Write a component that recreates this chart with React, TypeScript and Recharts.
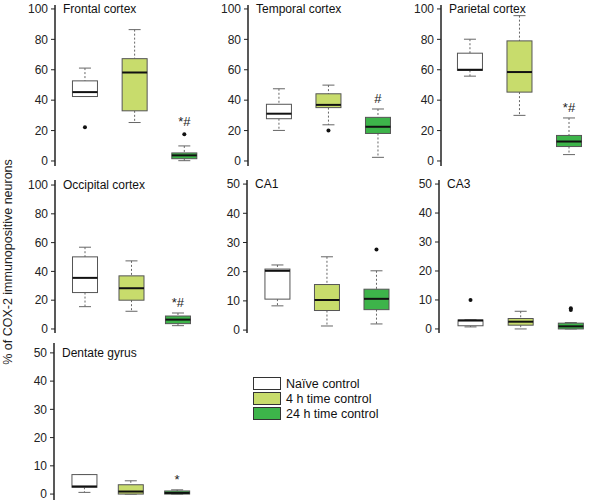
import React from 'react'
import { ComposedChart, Bar, XAxis, YAxis } from 'recharts'

const regions = ['Frontal cortex', 'Temporal cortex', 'Parietal cortex', 'Occipital cortex', 'CA1', 'CA3', 'Dentate gyrus']
const groups = ['Naïve control', '4 h time control', '24 h time control']
const groupColors = ['#ffffff', '#c8dc6c', '#3db44a']

// one row per region, one value per group (naive, 4 h, 24 h)
const whiskerLow = [
  [42.4, 25.3, 0.2],
  [20.1, 23.8, 2.4],
  [55.8, 30, 4.2],
  [15.5, 12.3, 2.3],
  [8.3, 1.4, 2.1],
  [0.7, 0, 0],
  [0.6, 0, 0],
]
const lowerQuartile = [
  [42.4, 33, 1.5],
  [27.8, 35.1, 18.1],
  [59.6, 45.3, 9.5],
  [25.3, 20, 3.7],
  [10.6, 6.7, 7],
  [1.1, 1.3, 0],
  [2.4, 0, 0],
]
const medians = [
  [45.3, 58.2, 3.7],
  [31.1, 36.9, 22.5],
  [60, 58.5, 12.8],
  [35.5, 28.3, 6.5],
  [20.3, 10.3, 10.7],
  [2.9, 2.5, 0.9],
  [2.7, 0.9, 0.4],
]
const upperQuartile = [
  [52.7, 67.3, 5.3],
  [37.3, 44.2, 28.7],
  [70.9, 79, 16.8],
  [50.1, 36.9, 9],
  [20.9, 15.6, 14],
  [3.1, 3.6, 2],
  [6.9, 3.3, 1.1],
]
const whiskerHigh = [
  [61.1, 86.4, 9.9],
  [47.5, 49.9, 34.2],
  [80.1, 95.6, 28.3],
  [56.8, 47.3, 11.1],
  [22.3, 25.1, 20.3],
  [3.2, 6.1, 2.2],
  [6.9, 4.7, 1.5],
]
const outliers = [
  [[22.2], [], [17.6]],
  [[], [20.1], []],
  [[], [], []],
  [[], [], []],
  [[], [], [27.6]],
  [[10], [], [6.5, 7.1]],
  [[], [], []],
]
const marks = [
  ['', '', '*#'],
  ['', '', '#'],
  ['', '', '*#'],
  ['', '', '*#'],
  ['', '', ''],
  ['', '', ''],
  ['', '', '*'],
]
const ticks100 = [0, 20, 40, 60, 80, 100]
const ticks50 = [0, 10, 20, 30, 40, 50]

const FONT = '"Liberation Sans", Arial, sans-serif'
const AXIS = '#222'

// where each panel's axes sit on the page
const layout = [
  { left: 55, right: 207, top: 5, bottom: 166, y: [-3.3, 102.6], x: [0.39, 3.45], ticks: ticks100 },
  { left: 248, right: 403, top: 5, bottom: 166, y: [-3.3, 102.6], x: [0.37, 3.5], ticks: ticks100 },
  { left: 441, right: 598, top: 5, bottom: 166, y: [-3.3, 102.6], x: [0.41, 3.58], ticks: ticks100 },
  { left: 55, right: 207, top: 180, bottom: 333, y: [-2.8, 103.5], x: [0.36, 3.63], ticks: ticks100 },
  { left: 247, right: 403, top: 180, bottom: 333, y: [-1, 51.4], x: [0.38, 3.53], ticks: ticks50 },
  { left: 439, right: 598, top: 180, bottom: 333, y: [-1.4, 51.4], x: [0.38, 3.55], ticks: ticks50 },
  { left: 54, right: 200, top: 343, bottom: 500, y: [-2.1, 53.5], x: [0.35, 3.5], ticks: ticks50 },
]

// draws the whole box plot from the min..max range bar
const BoxShape = (props: any) => {
  const { x, y, width, height, payload } = props
  const span = payload.hi - payload.lo
  const py = (v: number) => (span === 0 ? y : y + ((payload.hi - v) / span) * height)
  const cx = x + width / 2
  const cap = 6
  const top = Math.min(py(payload.hi), ...payload.out.map((v: number) => py(v) - 2))
  return (
    <g>
      <line x1={cx} x2={cx} y1={py(payload.hi)} y2={py(payload.q3)} stroke="#666" strokeDasharray="2 2" />
      <line x1={cx} x2={cx} y1={py(payload.q1)} y2={py(payload.lo)} stroke="#666" strokeDasharray="2 2" />
      <line x1={cx - cap} x2={cx + cap} y1={py(payload.hi)} y2={py(payload.hi)} stroke="#666" />
      <line x1={cx - cap} x2={cx + cap} y1={py(payload.lo)} y2={py(payload.lo)} stroke="#666" />
      <rect
        x={x}
        y={py(payload.q3)}
        width={width}
        height={Math.max(1, py(payload.q1) - py(payload.q3))}
        fill={payload.color}
        stroke="#555"
      />
      <line x1={x} x2={x + width} y1={py(payload.med)} y2={py(payload.med)} stroke="#111" strokeWidth={2} />
      {payload.out.map((v: number, k: number) => (
        <circle key={k} cx={cx} cy={py(v)} r={2} fill="#111" />
      ))}
      {payload.mark && (
        <text x={cx} y={top - 6} textAnchor="middle" fontSize={13} fontFamily={FONT} fill={AXIS}>
          {payload.mark}
        </text>
      )}
    </g>
  )
}

function Panel({ index }: { index: number }) {
  const l = layout[index]
  const data = groups.map((g, j) => ({
    pos: j + 1,
    lo: whiskerLow[index][j],
    q1: lowerQuartile[index][j],
    med: medians[index][j],
    q3: upperQuartile[index][j],
    hi: whiskerHigh[index][j],
    out: outliers[index][j],
    mark: marks[index][j],
    color: groupColors[j],
  }))
  const yw = 50
  const pad = 9
  // title sits level with the top tick
  const topTick = l.ticks[l.ticks.length - 1]
  const tickY = ((l.y[1] - topTick) / (l.y[1] - l.y[0])) * (l.bottom - l.top)
  return (
    <div style={{ position: 'absolute', left: l.left - yw, top: l.top - pad }}>
      <ComposedChart
        width={l.right - l.left + yw + 2}
        height={l.bottom - l.top + pad * 2}
        data={data}
        margin={{ top: pad, right: 2, bottom: pad, left: 0 }}
      >
        <XAxis
          type="number"
          dataKey="pos"
          domain={l.x}
          ticks={[1, 2, 3]}
          tick={false}
          tickLine={false}
          height={0}
          axisLine={{ stroke: AXIS, strokeWidth: 1.5 }}
          allowDataOverflow
        />
        <YAxis
          width={yw}
          domain={l.y}
          ticks={l.ticks}
          interval={0}
          allowDataOverflow
          tickSize={4}
          tickMargin={3}
          tick={{ fill: AXIS, fontSize: 12, fontFamily: FONT }}
          tickLine={{ stroke: AXIS }}
          axisLine={{ stroke: AXIS, strokeWidth: 1.5 }}
        />
        <Bar dataKey={(d: any) => [d.lo, d.hi]} barSize={25} shape={<BoxShape />} isAnimationActive={false} />
      </ComposedChart>
      <div
        style={{
          position: 'absolute',
          left: yw + 8,
          top: pad + tickY - 6,
          fontFamily: FONT,
          fontSize: 12,
          lineHeight: '12px',
          color: '#111',
          whiteSpace: 'nowrap',
        }}
      >
        {regions[index]}
      </div>
    </div>
  )
}

export default function App() {
  return (
    <div style={{ position: 'absolute', left: 0, top: 0, width: 600, height: 504, background: '#fff' }}>
      {regions.map((r, i) => (
        <Panel key={r} index={i} />
      ))}
      <svg width={20} height={504} style={{ position: 'absolute', left: 0, top: 0 }}>
        <text
          transform="translate(12, 262) rotate(-90)"
          textAnchor="middle"
          fontSize={12.5}
          fontFamily={FONT}
          fill="#222"
        >
          % of COX-2 immunopositive neurons
        </text>
      </svg>
      <div style={{ position: 'absolute', left: 253, top: 376, fontFamily: FONT, fontSize: 12.5, color: '#111' }}>
        {groups.map((g, j) => (
          <div key={g} style={{ display: 'flex', alignItems: 'center', height: 15 }}>
            <div
              style={{
                width: 26,
                height: 11,
                background: groupColors[j],
                border: '1.5px solid #333',
                marginRight: 5,
              }}
            />
            <span>{g}</span>
          </div>
        ))}
      </div>
    </div>
  )
}
